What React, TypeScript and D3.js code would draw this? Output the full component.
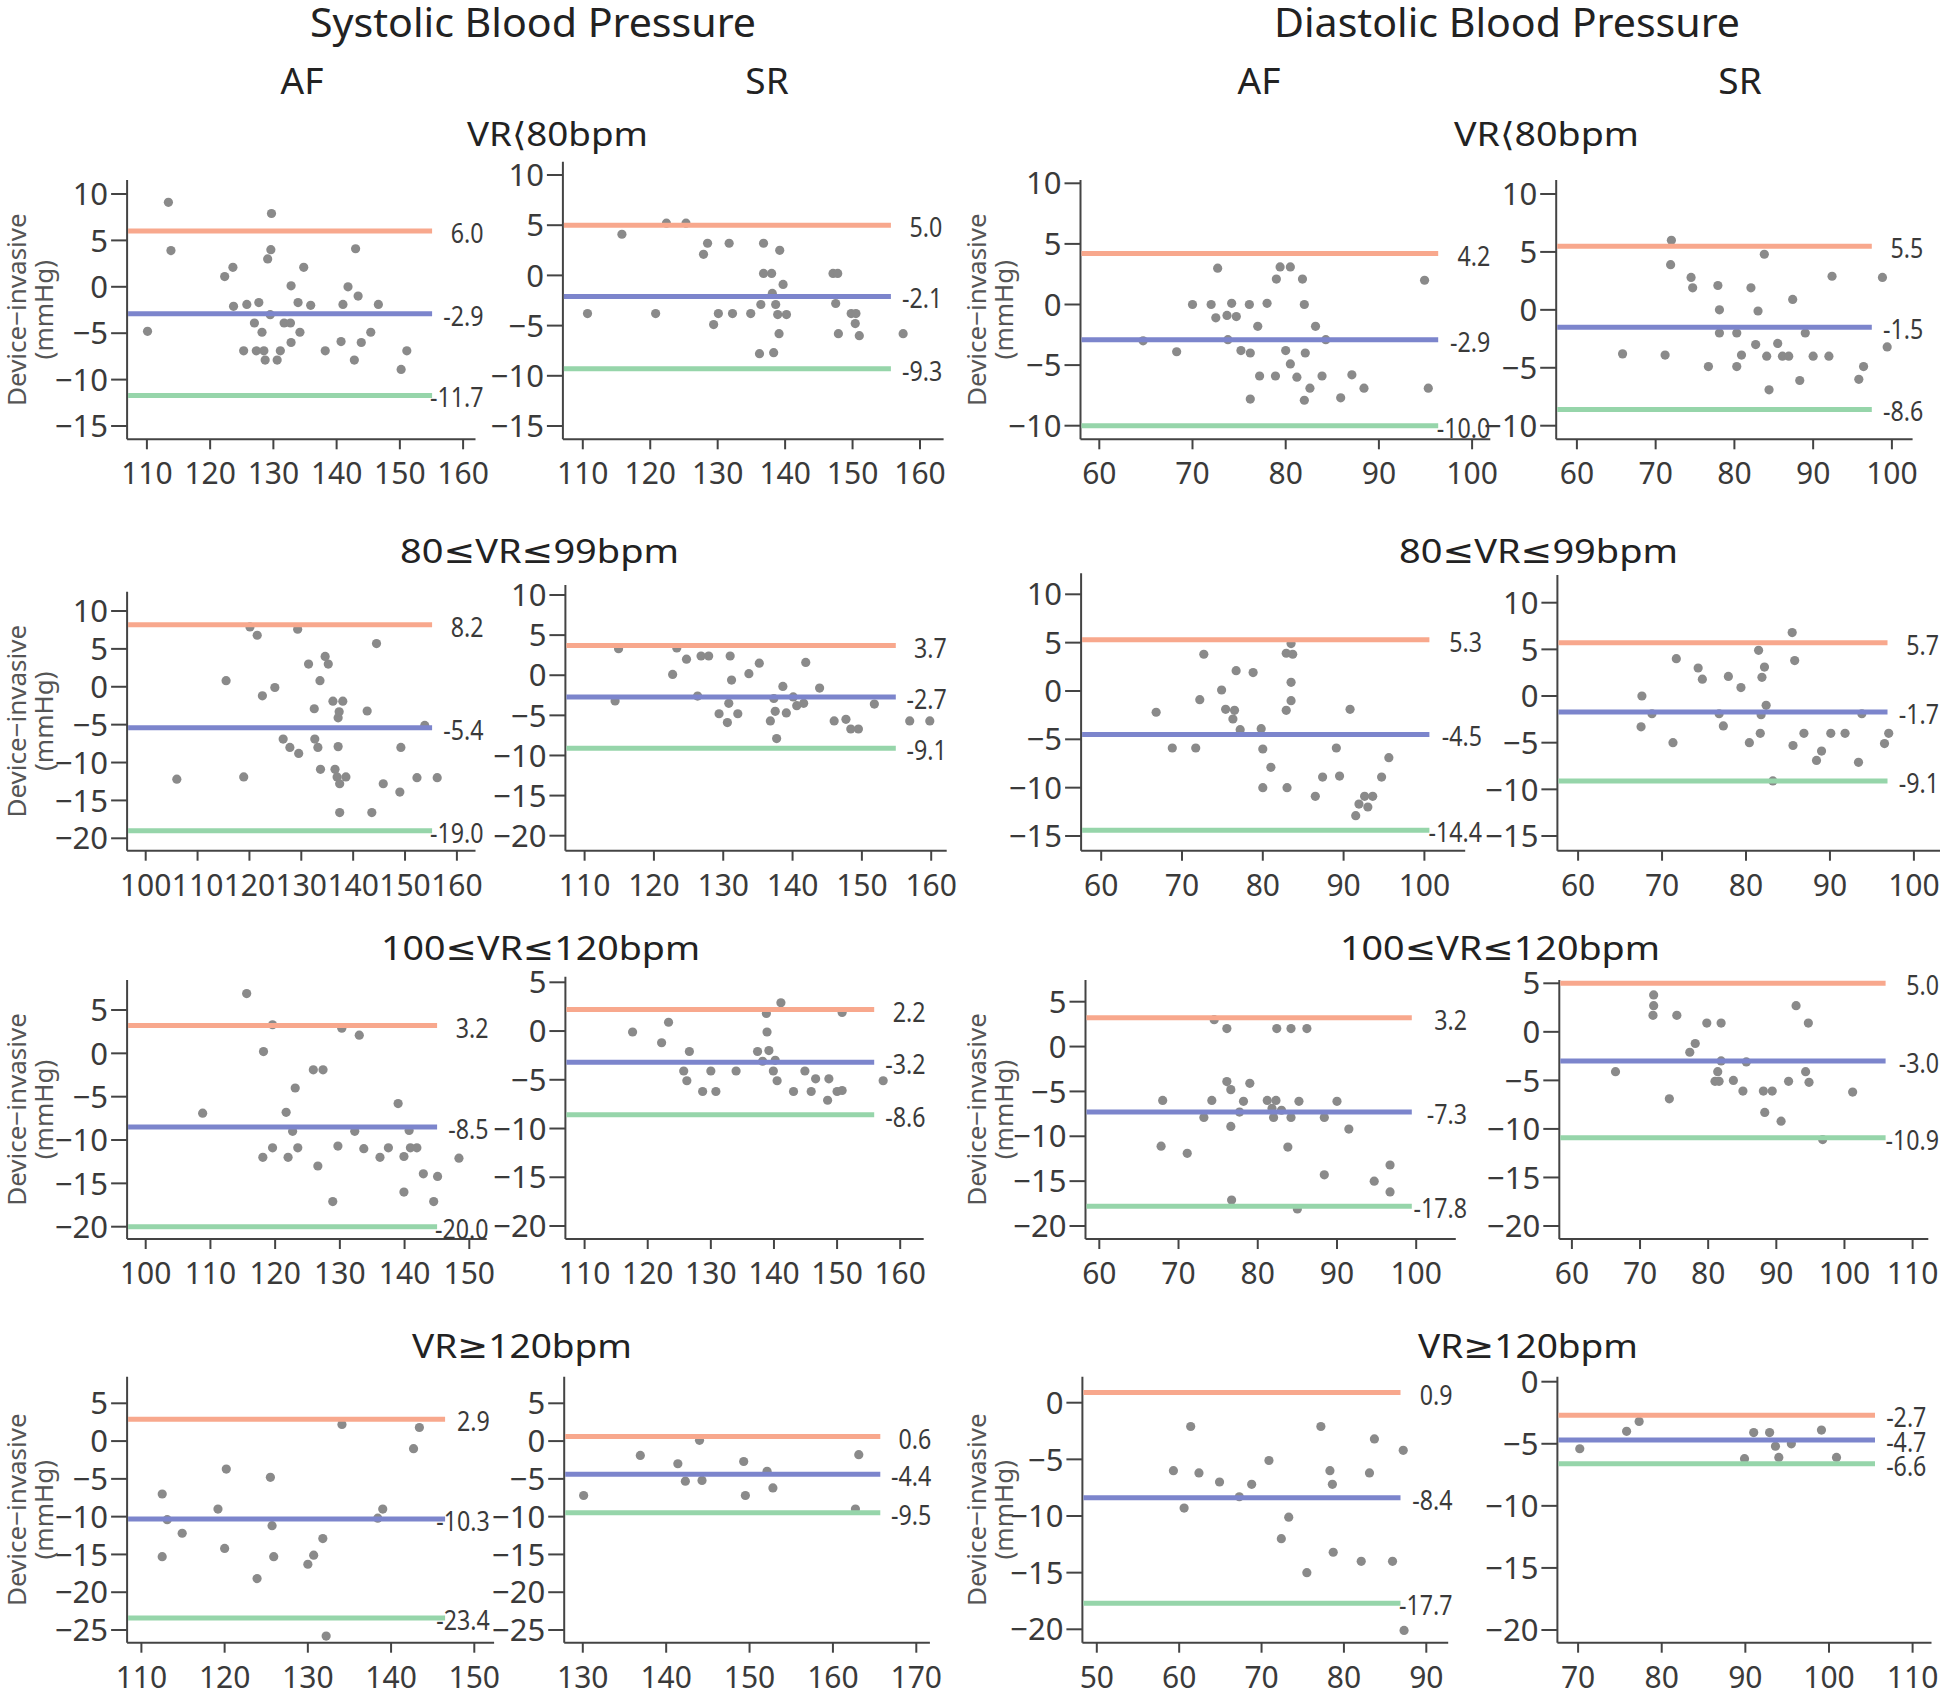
import React from 'react';
import * as d3 from 'd3';

// ---------------- DATA ----------------
const measureTitles = ['Systolic Blood Pressure', 'Diastolic Blood Pressure'];
const rhythmLabels = ['AF', 'SR', 'AF', 'SR'];
const rateGroups = ['VR⟨80bpm', '80≤VR≤99bpm', '100≤VR≤120bpm', 'VR≥120bpm'];

// panel order: row-major (rate group), columns: Sys AF, Sys SR, Dia AF, Dia SR
const upperLimits = [6.0, 5.0, 4.2, 5.5, 8.2, 3.7, 5.3, 5.7, 3.2, 2.2, 3.2, 5.0, 2.9, 0.6, 0.9, -2.7];
const meanBias = [-2.9, -2.1, -2.9, -1.5, -5.4, -2.7, -4.5, -1.7, -8.5, -3.2, -7.3, -3.0, -10.3, -4.4, -8.4, -4.7];
const lowerLimits = [-11.7, -9.3, -10.0, -8.6, -19.0, -9.1, -14.4, -9.1, -20.0, -8.6, -17.8, -10.9, -23.4, -9.5, -17.7, -6.6];

const xTicks = [
  [110, 120, 130, 140, 150, 160], [110, 120, 130, 140, 150, 160], [60, 70, 80, 90, 100], [60, 70, 80, 90, 100],
  [100, 110, 120, 130, 140, 150, 160], [110, 120, 130, 140, 150, 160], [60, 70, 80, 90, 100], [60, 70, 80, 90, 100],
  [100, 110, 120, 130, 140, 150], [110, 120, 130, 140, 150, 160], [60, 70, 80, 90, 100], [60, 70, 80, 90, 100, 110],
  [110, 120, 130, 140, 150], [130, 140, 150, 160, 170], [50, 60, 70, 80, 90], [70, 80, 90, 100, 110],
];
const yTicks = [
  [10, 5, 0, -5, -10, -15], [10, 5, 0, -5, -10, -15], [10, 5, 0, -5, -10], [10, 5, 0, -5, -10],
  [10, 5, 0, -5, -10, -15, -20], [10, 5, 0, -5, -10, -15, -20], [10, 5, 0, -5, -10, -15], [10, 5, 0, -5, -10, -15],
  [5, 0, -5, -10, -15, -20], [5, 0, -5, -10, -15, -20], [5, 0, -5, -10, -15, -20], [5, 0, -5, -10, -15, -20],
  [5, 0, -5, -10, -15, -20, -25], [5, 0, -5, -10, -15, -20, -25], [0, -5, -10, -15, -20], [0, -5, -10, -15, -20],
];

const sysAF80 = [[113.4,9.1],[113.8,3.9],[110.1,-4.8],[122.3,1.1],[123.6,2.1],[123.7,-2.1],[125.8,-1.9],[127.7,-1.7],[125.3,-6.9],[127.0,-3.9],[127.3,-6.9],[128.2,-4.9],[128.5,-6.9],[128.7,-7.9],[129.1,3.0],[129.6,4.0],[129.7,7.9],[129.5,-3.0],[130.6,-7.9],[131.1,-6.9],[131.7,-3.9],[132.7,-3.9],[132.8,0.1],[132.8,-6.0],[133.9,-1.7],[134.2,-4.9],[134.8,2.1],[135.9,-2.0],[138.2,-6.9],[140.7,-5.9],[141.0,-1.9],[141.8,0.0],[142.8,-7.9],[143.0,4.1],[143.4,-1.0],[143.9,-6.0],[145.4,-4.9],[146.6,-1.9],[150.2,-8.9],[151.1,-6.9]];
const sysSR80 = [[110.7,-3.8],[115.8,4.1],[120.8,-3.8],[122.4,5.2],[125.3,5.2],[127.9,2.1],[128.5,3.2],[129.4,-4.9],[130.1,-3.8],[131.7,3.2],[132.2,-3.8],[134.9,-3.8],[136.4,-2.9],[136.2,-7.8],[136.8,3.2],[136.8,0.2],[138.0,0.2],[138.1,-1.8],[138.3,-7.7],[138.6,-2.9],[138.9,-3.9],[139.1,-5.8],[139.2,2.5],[139.7,-0.9],[140.2,-3.9],[147.1,0.2],[147.8,0.2],[147.5,-2.8],[147.9,-5.8],[149.8,-3.8],[150.5,-3.8],[150.4,-4.8],[151.0,-6.0],[157.5,-5.8]];
const diaAF80 = [[64.7,-3.0],[68.3,-3.9],[70.0,0.0],[72.0,0.0],[72.5,-1.1],[72.7,3.0],[73.7,-0.9],[73.8,-2.9],[74.2,0.1],[74.7,-1.0],[75.2,-3.8],[76.1,0.0],[76.2,-4.0],[76.2,-7.8],[77.0,-1.8],[77.2,-5.9],[78.0,0.1],[78.9,-5.9],[79.0,2.1],[79.4,3.1],[80.0,-3.8],[80.5,3.1],[80.5,-4.9],[81.2,-6.0],[81.8,2.1],[82.0,0.0],[82.1,-4.0],[82.0,-7.9],[82.6,-6.9],[83.2,-1.8],[83.9,-5.9],[84.3,-2.9],[85.9,-7.7],[87.1,-5.8],[88.4,-6.9],[94.9,2.0],[95.3,-6.9]];
const diaSR80 = [[65.8,-3.8],[71.2,-3.9],[72.0,6.0],[71.9,3.9],[74.5,2.8],[74.7,1.9],[76.7,-4.9],[77.9,2.1],[78.1,0.0],[78.1,-2.0],[80.3,-2.0],[80.3,-4.9],[80.9,-3.9],[82.1,1.9],[82.7,-3.0],[83.0,-0.1],[83.8,4.8],[84.1,-4.0],[84.4,-6.9],[85.5,-2.9],[86.1,-4.0],[86.9,-4.0],[87.4,0.9],[88.3,-6.1],[89.0,-2.0],[90.0,-4.0],[92.0,-4.0],[92.4,2.9],[95.8,-6.0],[96.4,-4.9],[98.8,2.8],[99.4,-3.2]];
const sysAF99 = [[106.0,-12.2],[115.5,0.8],[118.9,-11.9],[120.1,7.9],[121.5,6.8],[122.5,-1.2],[124.9,-0.1],[126.5,-6.9],[127.8,-8.0],[129.3,7.6],[129.5,-8.8],[131.4,3.0],[132.5,-2.9],[132.6,-6.9],[133.2,-8.0],[133.6,0.8],[133.7,-10.9],[134.6,4.0],[135.2,3.0],[136.1,-1.9],[136.5,-10.9],[136.9,-11.9],[137.1,-7.9],[137.1,-4.1],[137.3,-3.3],[137.4,-12.8],[137.4,-16.6],[138.0,-1.9],[138.6,-11.9],[142.7,-3.2],[143.6,-16.6],[144.5,5.7],[145.8,-12.8],[149.0,-13.9],[149.2,-8.0],[152.3,-12.0],[153.8,-5.1],[156.2,-12.0]];
const sysSR99 = [[114.4,-3.2],[114.9,3.3],[122.7,0.1],[123.3,3.4],[124.7,2.0],[126.3,-2.6],[126.8,2.4],[127.9,2.4],[129.4,-4.8],[130.8,-3.5],[130.6,-5.9],[131.0,2.4],[131.2,-0.6],[132.1,-4.8],[133.7,0.2],[135.2,1.5],[136.8,-5.7],[137.3,-2.9],[137.5,-4.5],[137.7,-7.9],[138.6,-1.4],[139.1,-4.7],[140.1,-2.7],[140.6,-3.8],[141.6,-3.5],[141.9,1.6],[143.9,-1.6],[146.0,-5.7],[147.7,-5.5],[148.4,-6.7],[149.5,-6.7],[151.8,-3.6],[156.9,-5.7],[159.8,-5.7]];
const diaAF99 = [[66.8,-2.2],[68.8,-5.9],[71.7,-5.9],[72.2,-0.9],[72.7,3.8],[74.9,0.1],[75.4,-1.9],[76.3,-2.9],[76.5,-2.0],[76.7,2.1],[77.2,-4.0],[78.8,1.9],[79.8,-3.9],[80.0,-6.0],[80.0,-10.0],[81.0,-7.9],[83.0,-10.0],[82.9,-2.0],[82.9,3.9],[83.5,4.9],[83.7,3.8],[83.5,0.9],[83.5,-1.0],[86.5,-10.9],[87.4,-8.9],[89.1,-5.9],[89.5,-8.8],[90.8,-1.9],[91.5,-12.9],[91.9,-11.7],[92.6,-10.9],[93.0,-12.0],[93.6,-10.9],[94.7,-8.9],[95.6,-6.9]];
const diaSR99 = [[67.6,0.0],[67.5,-3.3],[68.8,-1.9],[71.3,-5.0],[71.7,4.0],[74.3,3.0],[74.8,1.8],[76.8,-1.9],[77.3,-3.2],[77.9,2.1],[79.4,0.9],[80.4,-5.0],[81.5,4.9],[81.7,-4.0],[81.8,-2.0],[81.9,2.0],[82.2,3.1],[82.4,-1.0],[83.2,-9.1],[85.5,6.8],[85.6,-5.3],[85.8,3.8],[86.9,-4.0],[88.4,-6.9],[89.0,-5.9],[90.1,-4.0],[91.8,-4.0],[93.4,-7.1],[93.8,-1.9],[96.5,-5.1],[97.0,-4.0]];
const sysAF120 = [[115.6,6.9],[108.8,-6.9],[118.2,0.2],[119.6,3.3],[118.1,-12.0],[119.6,-10.9],[121.7,-6.8],[122.0,-12.0],[122.7,-9.0],[123.1,-4.0],[123.5,-10.9],[125.9,-1.9],[127.4,-1.9],[126.6,-13.0],[128.9,-17.1],[129.7,-10.7],[130.3,2.9],[132.3,-9.0],[133.0,2.1],[133.7,-11.0],[136.2,-12.0],[137.5,-10.9],[139.0,-5.8],[139.9,-11.9],[139.9,-16.0],[140.7,-8.9],[140.9,-10.9],[141.9,-10.9],[142.9,-13.9],[144.5,-17.1],[145.1,-14.2],[148.4,-12.1]];
const sysSR120 = [[117.6,-0.1],[122.2,-1.2],[123.3,0.9],[126.6,-2.1],[125.7,-4.1],[126.2,-5.1],[128.7,-6.2],[130.0,-4.1],[130.8,-6.2],[134.0,-4.1],[137.4,-2.1],[138.2,-3.1],[138.8,1.8],[138.9,-0.1],[139.2,-2.0],[139.9,-4.1],[140.2,-3.0],[140.5,-5.1],[141.1,2.9],[143.1,-6.2],[144.9,-4.1],[145.9,-6.2],[146.6,-4.9],[148.5,-7.1],[148.7,-4.9],[150.0,-6.2],[150.8,-6.1],[150.8,1.9],[157.3,-5.1]];
const diaAF120 = [[67.8,-11.1],[68.0,-6.0],[71.1,-11.9],[73.2,-7.9],[74.2,-6.0],[74.5,3.0],[76.1,2.0],[76.1,-3.9],[76.6,-4.8],[76.6,-8.9],[76.7,-17.1],[77.7,-7.3],[78.2,-6.1],[79.0,-4.1],[81.2,-6.0],[81.8,-6.9],[82.0,-7.9],[82.3,-6.0],[82.4,2.0],[83.0,-7.1],[83.8,-11.2],[84.2,-7.9],[84.2,2.0],[85.2,-6.1],[85.0,-18.1],[86.2,2.0],[88.4,-7.9],[88.4,-14.3],[90.0,-6.1],[91.5,-9.2],[94.7,-15.0],[96.7,-13.2],[96.7,-16.2]];
const diaSR120 = [[66.4,-4.1],[72.0,3.8],[72.0,2.7],[71.9,1.7],[74.3,-6.9],[75.4,1.7],[77.3,-2.1],[78.1,-1.2],[79.8,0.9],[81.0,-5.1],[81.4,-4.1],[81.6,-5.1],[81.9,0.9],[81.9,-3.0],[83.7,-5.0],[85.6,-3.1],[85.1,-6.1],[88.1,-6.1],[88.3,-8.3],[89.4,-6.1],[90.7,-9.2],[91.8,-5.1],[92.9,2.7],[94.3,-4.1],[94.7,0.9],[94.8,-5.2],[96.8,-11.1],[101.2,-6.2]];
const sysAFgt = [[112.5,-7.0],[112.5,-15.3],[113.1,-10.4],[114.9,-12.2],[119.2,-9.0],[120.0,-14.2],[120.2,-3.7],[123.9,-18.2],[125.5,-4.8],[125.7,-11.2],[125.9,-15.3],[130.0,-16.3],[130.7,-15.1],[131.8,-12.9],[132.2,-25.8],[134.1,2.2],[138.4,-10.2],[139.0,-9.0],[142.7,-1.0],[143.4,1.8]];
const sysSRgt = [[130.1,-7.2],[136.9,-1.9],[141.4,-3.0],[142.3,-5.3],[144.0,0.1],[144.3,-5.2],[149.3,-2.7],[149.5,-7.2],[152.1,-4.0],[152.8,-6.2],[162.7,-9.0],[163.1,-1.8]];
const diaAFgt = [[59.3,-6.0],[60.6,-9.3],[61.4,-2.1],[62.4,-6.2],[64.9,-7.0],[67.3,-8.3],[68.8,-7.2],[70.9,-5.1],[72.4,-12.0],[73.3,-10.1],[75.5,-15.0],[77.2,-2.1],[78.3,-6.0],[78.6,-7.2],[78.7,-13.2],[82.1,-14.0],[83.1,-6.2],[83.7,-3.2],[85.9,-14.0],[87.2,-4.2],[87.3,-20.1]];
const diaSRgt = [[70.2,-5.4],[75.8,-4.0],[77.3,-3.2],[89.9,-6.2],[91.0,-4.1],[92.9,-4.1],[93.6,-5.2],[94.0,-6.1],[95.5,-5.0],[99.1,-3.9],[100.9,-6.1]];

const panelPoints = [
  sysAF80, sysSR80, diaAF80, diaSR80,
  sysAF99, sysSR99, diaAF99, diaSR99,
  sysAF120, sysSR120, diaAF120, diaSR120,
  sysAFgt, sysSRgt, diaAFgt, diaSRgt,
];

// ---------------- LAYOUT (pixels) ----------------
// ax: y-axis x; xr: pixel range of first/last x tick; yr: pixel range of first/last y tick
const layout = [
  { ax: 127.1, xr: [146.9, 463.1], xEnd: 475.5, lineEnd: 432.1, labR: 483.6, yr: [194, 426], bottom: 439.3, top: 180, ylab: 0 },
  { ax: 562.9, xr: [582.8, 920.0], xEnd: 943.6, lineEnd: 890.9, labR: 942.3, yr: [175, 426], bottom: 439.3, top: 161.7, ylab: -1 },
  { ax: 1080.5, xr: [1099.3, 1472.1], xEnd: 1490.3, lineEnd: 1438.2, labR: 1490.3, yr: [183.3, 425.7], bottom: 439.3, top: 180, ylab: 960 },
  { ax: 1556.2, xr: [1576.9, 1891.9], xEnd: 1912.6, lineEnd: 1871.8, labR: 1923.3, yr: [194, 425.7], bottom: 439.3, top: 180, ylab: -1 },
  { ax: 127.1, xr: [145.7, 456.9], xEnd: 475.5, lineEnd: 432.1, labR: 483.6, yr: [611, 838.3], bottom: 850.7, top: 591.7, ylab: 0 },
  { ax: 565.4, xr: [584.6, 931.2], xEnd: 946.7, lineEnd: 895.8, labR: 946.7, yr: [595, 835.7], bottom: 850.7, top: 585, ylab: -1 },
  { ax: 1081.1, xr: [1101.2, 1424.4], xEnd: 1465.2, lineEnd: 1429.4, labR: 1482.1, yr: [594.3, 836], bottom: 850.7, top: 573.3, ylab: -1 },
  { ax: 1557.4, xr: [1578.1, 1913.9], xEnd: 1940, lineEnd: 1887.5, labR: 1939, yr: [602.7, 836], bottom: 850.7, top: 575, ylab: -1 },
  { ax: 127.1, xr: [145.7, 469.3], xEnd: 486.7, lineEnd: 437.1, labR: 488.5, yr: [1010, 1226.7], bottom: 1239, top: 980, ylab: 0 },
  { ax: 565.4, xr: [584.6, 900.2], xEnd: 923.7, lineEnd: 874.2, labR: 925.6, yr: [982.3, 1226], bottom: 1239, top: 976.7, ylab: -1 },
  { ax: 1085.5, xr: [1099.3, 1416.2], xEnd: 1455.8, lineEnd: 1411.8, labR: 1467.1, yr: [1001.7, 1226], bottom: 1239, top: 980, ylab: 960 },
  { ax: 1559.3, xr: [1571.9, 1912.6], xEnd: 1928.3, lineEnd: 1885.6, labR: 1939, yr: [983.3, 1226], bottom: 1239, top: 980, ylab: -1 },
  { ax: 127.1, xr: [141.4, 474.3], xEnd: 494.1, lineEnd: 445.1, labR: 489.8, yr: [1403.3, 1630], bottom: 1642.7, top: 1376.7, ylab: 0 },
  { ax: 564.2, xr: [582.8, 916.3], xEnd: 929.9, lineEnd: 880.3, labR: 931.2, yr: [1403.3, 1630], bottom: 1642.7, top: 1376.7, ylab: -1 },
  { ax: 1082.4, xr: [1096.8, 1426.3], xEnd: 1448.2, lineEnd: 1400.5, labR: 1452.6, yr: [1402.7, 1629.3], bottom: 1642.7, top: 1376.7, ylab: 960 },
  { ax: 1557.4, xr: [1578.1, 1912.6], xEnd: 1931.5, lineEnd: 1875, labR: 1926.4, yr: [1381.7, 1630], bottom: 1642.7, top: 1376.7, ylab: -1 },
];

const titleLayout = [
  { x0: 310, x1: 756, y: 37 },
  { x0: 1274, x1: 1740, y: 37 },
];
const rhythmX = [302, 767, 1259, 1740];
const subLayout = [
  [{ x0: 467, x1: 648 }, { x0: 1454, x1: 1639 }],
  [{ x0: 400, x1: 679 }, { x0: 1399, x1: 1678 }],
  [{ x0: 381, x1: 700 }, { x0: 1340, x1: 1660 }],
  [{ x0: 412, x1: 632 }, { x0: 1418, x1: 1638 }],
];
const subY = [146, 563, 960, 1358];

const FONT = "'Noto Sans', 'DejaVu Sans', sans-serif";
const UPPER = '#F8A88D';
const MEAN = '#7C85CC';
const LOWER = '#96D5AA';
const AXIS = '#444444';
const TEXT = '#3a3a3a';
const POINT = '#8a8a8a';

function Panel({ i }: { i: number }) {
  const L = layout[i];
  const xt = xTicks[i];
  const yt = yTicks[i];
  const x = d3.scaleLinear().domain([xt[0], xt[xt.length - 1]]).range(L.xr);
  const y = d3.scaleLinear().domain([yt[0], yt[yt.length - 1]]).range(L.yr);
  const lines = [
    { v: upperLimits[i], c: UPPER },
    { v: meanBias[i], c: MEAN },
    { v: lowerLimits[i], c: LOWER },
  ];
  const fmtTick = (v: number) => (v < 0 ? '−' + Math.abs(v) : String(v));
  const fmtVal = (v: number) => (v < 0 ? '-' : '') + Math.abs(v).toFixed(1);
  const midY = (L.top + L.bottom) / 2;
  return (
    <g>
      <line x1={L.ax} x2={L.ax} y1={L.top} y2={L.bottom} stroke={AXIS} strokeWidth={2} />
      <line x1={L.ax} x2={L.xEnd} y1={L.bottom} y2={L.bottom} stroke={AXIS} strokeWidth={2} />
      {yt.map((t) => (
        <g key={'y' + t}>
          <line x1={L.ax - 16} x2={L.ax} y1={y(t)} y2={y(t)} stroke={AXIS} strokeWidth={2} />
          <text x={L.ax - 19} y={y(t)} dy="0.36em" textAnchor="end" fontSize={31} fill={TEXT} fontFamily={FONT}>
            {fmtTick(t)}
          </text>
        </g>
      ))}
      {xt.map((t) => (
        <g key={'x' + t}>
          <line x1={x(t)} x2={x(t)} y1={L.bottom} y2={L.bottom + 10} stroke={AXIS} strokeWidth={2} />
          <text x={x(t)} y={L.bottom + 45} textAnchor="middle" fontSize={30} fill={TEXT} fontFamily={FONT}>
            {t}
          </text>
        </g>
      ))}
      {panelPoints[i].map((p, k) => (
        <circle key={k} cx={x(p[0])} cy={y(p[1])} r={4.6} fill={POINT} />
      ))}
      {lines.map((ln, k) => (
        <line key={'l' + k} x1={L.ax + 1} x2={L.lineEnd} y1={y(ln.v)} y2={y(ln.v)} stroke={ln.c} strokeWidth={5} />
      ))}
      {lines.map((ln, k) => (
        <text
          key={'t' + k}
          transform={`translate(${L.labR},${y(ln.v) + 12}) scale(0.86,1)`}
          textAnchor="end"
          fontSize={27}
          fill={TEXT}
          fontFamily={FONT}
        >
          {fmtVal(ln.v)}
        </text>
      ))}
      {L.ylab >= 0 && (
        <g>
          <text
            transform={`translate(${L.ylab + 26},${midY}) rotate(-90)`}
            textAnchor="middle"
            fontSize={26}
            fill="#555"
            fontFamily={FONT}
          >
            Device−invasive
          </text>
          <text
            transform={`translate(${L.ylab + 53},${midY}) rotate(-90)`}
            textAnchor="middle"
            fontSize={26}
            fill="#555"
            fontFamily={FONT}
          >
            (mmHg)
          </text>
        </g>
      )}
    </g>
  );
}

export default function App() {
  return (
    <svg
      width={1944}
      height={1692}
      style={{ position: 'absolute', left: 0, top: 0, background: '#fff' }}
      xmlns="http://www.w3.org/2000/svg"
    >
      <rect width={1944} height={1692} fill="#fff" />
      {measureTitles.map((t, k) => (
        <text
          key={t}
          x={titleLayout[k].x0}
          y={titleLayout[k].y}
          textLength={titleLayout[k].x1 - titleLayout[k].x0}
          lengthAdjust="spacingAndGlyphs"
          fontSize={40}
          fill="#222"
          fontFamily={FONT}
        >
          {t}
        </text>
      ))}
      {rhythmLabels.map((t, k) => (
        <text key={k} x={rhythmX[k]} y={94} textAnchor="middle" fontSize={37} fill="#222" fontFamily={FONT}>
          {t}
        </text>
      ))}
      {rateGroups.map((g, r) =>
        subLayout[r].map((s, c) => (
          <text
            key={g + c}
            x={s.x0}
            y={subY[r]}
            textLength={s.x1 - s.x0}
            lengthAdjust="spacingAndGlyphs"
            fontSize={33}
            fill="#222"
            fontFamily={FONT}
          >
            {g}
          </text>
        ))
      )}
      {layout.map((_, i) => (
        <Panel key={i} i={i} />
      ))}
    </svg>
  );
}
